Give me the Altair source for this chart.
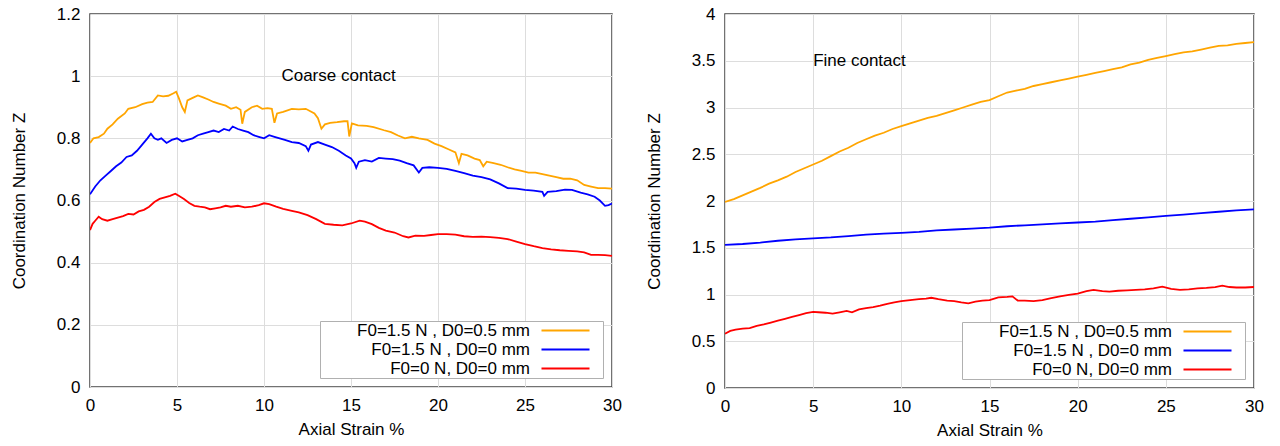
import altair as alt
import pandas as pd

SERIES = ["F0=1.5 N , D0=0.5 mm", "F0=1.5 N , D0=0 mm", "F0=0 N, D0=0 mm"]
COLORS = ["#ffa500", "#0000ff", "#ff0000"]
X_TICKS = [0, 5, 10, 15, 20, 25, 30]
Y_TICKS_COARSE = [0, 0.2, 0.4, 0.6, 0.8, 1.0, 1.2]
Y_TICKS_FINE = [0, 0.5, 1, 1.5, 2, 2.5, 3, 3.5, 4]

# ---- Coarse contact (left panel) ----
coarse_orange_x = [0, 0.2, 0.5, 0.8, 1.0, 1.3, 1.6, 2.0, 2.2, 2.6, 3.0, 3.3, 3.6, 3.9, 4.2, 4.5, 4.8, 4.95,
                   5.1, 5.3, 5.45, 5.6, 5.9, 6.2, 6.5, 6.8, 7.1, 7.4, 7.8, 8.1, 8.4, 8.65, 8.75, 8.9, 9.3,
                   9.6, 9.9, 10.2, 10.45, 10.6, 10.75, 11.1, 11.6, 12.0, 12.4, 12.9, 13.1, 13.3, 13.5, 13.8,
                   14.2, 14.6, 14.8, 14.9, 15.05, 15.4, 15.9, 16.3, 16.9, 17.3, 17.7, 18.1, 18.5, 18.9, 19.4,
                   19.8, 20.2, 20.6, 21.0, 21.2, 21.35, 21.7, 22.1, 22.4, 22.6, 22.8, 23.2, 23.6, 24.0, 24.4,
                   24.8, 25.2, 25.6, 26.0, 26.4, 26.8, 27.2, 27.6, 28.0, 28.4, 28.8, 29.2, 29.6, 30.0]
coarse_orange_y = [0.785, 0.80, 0.804, 0.815, 0.831, 0.845, 0.863, 0.88, 0.895, 0.90, 0.91, 0.915, 0.917, 0.938,
                   0.935, 0.937, 0.945, 0.95, 0.93, 0.90, 0.885, 0.922, 0.93, 0.938, 0.932, 0.925, 0.917, 0.912,
                   0.905, 0.895, 0.90, 0.892, 0.847, 0.885, 0.90, 0.905, 0.895, 0.897, 0.895, 0.85, 0.88, 0.885,
                   0.895, 0.893, 0.895, 0.88, 0.865, 0.831, 0.845, 0.85, 0.852, 0.855, 0.855, 0.806, 0.848,
                   0.842, 0.84, 0.836, 0.826, 0.82, 0.809, 0.80, 0.805, 0.80, 0.795, 0.783, 0.775, 0.765, 0.755,
                   0.72, 0.75, 0.745, 0.735, 0.73, 0.71, 0.725, 0.72, 0.715, 0.707, 0.70, 0.695, 0.69, 0.69,
                   0.685, 0.68, 0.675, 0.67, 0.67, 0.665, 0.65, 0.645, 0.64, 0.64, 0.638]

coarse_blue_x = [0, 0.3, 0.6, 0.9, 1.2, 1.5, 1.8, 2.1, 2.4, 2.7, 3.0, 3.3, 3.5, 3.7, 3.9, 4.1, 4.4, 4.7, 5.0,
                 5.3, 5.6, 5.9, 6.2, 6.5, 6.8, 7.1, 7.4, 7.7, 8.0, 8.2, 8.5, 8.8, 9.1, 9.4, 9.7, 10.0, 10.3,
                 10.6, 10.9, 11.2, 11.6, 12.0, 12.4, 12.55, 12.7, 13.1, 13.5, 13.9, 14.3, 14.7, 15.0, 15.2,
                 15.3, 15.45, 15.8, 16.2, 16.6, 17.0, 17.4, 17.8, 18.2, 18.6, 18.9, 19.1, 19.5, 20.0, 20.5,
                 21.0, 21.5, 22.0, 22.5, 23.0, 23.5, 24.0, 24.5, 25.0, 25.5, 26.0, 26.1, 26.3, 26.8, 27.3,
                 27.7, 28.2, 28.6, 29.0, 29.3, 29.6, 29.8, 30.0]
coarse_blue_y = [0.62, 0.645, 0.665, 0.68, 0.695, 0.71, 0.722, 0.74, 0.745, 0.76, 0.78, 0.80, 0.815, 0.80,
                 0.795, 0.80, 0.785, 0.795, 0.80, 0.79, 0.795, 0.80, 0.81, 0.815, 0.82, 0.825, 0.82, 0.83,
                 0.825, 0.838, 0.83, 0.825, 0.82, 0.81, 0.805, 0.80, 0.81, 0.805, 0.80, 0.795, 0.788, 0.785,
                 0.775, 0.76, 0.78, 0.788, 0.78, 0.772, 0.76, 0.745, 0.735, 0.72, 0.705, 0.725, 0.73, 0.725,
                 0.737, 0.735, 0.733, 0.728, 0.72, 0.713, 0.69, 0.705, 0.707, 0.705, 0.702, 0.695, 0.688,
                 0.68, 0.675, 0.668, 0.655, 0.64, 0.638, 0.634, 0.632, 0.628, 0.615, 0.628, 0.63, 0.635,
                 0.634, 0.625, 0.62, 0.612, 0.60, 0.583, 0.585, 0.59]

coarse_red_x = [0, 0.15, 0.3, 0.5, 0.7, 1.0, 1.3, 1.6, 1.9, 2.2, 2.5, 2.8, 3.1, 3.4, 3.7, 4.0, 4.3, 4.6, 4.9,
                5.1, 5.4, 5.7, 6.0, 6.3, 6.6, 6.9, 7.2, 7.5, 7.8, 8.1, 8.5, 8.9, 9.3, 9.7, 10.0, 10.3, 10.7,
                11.1, 11.6, 12.0, 12.5, 13.0, 13.5, 14.0, 14.5, 15.0, 15.5, 15.8, 16.2, 16.6, 17.0, 17.5,
                18.0, 18.3, 18.7, 19.2, 19.6, 20.0, 20.5, 21.0, 21.5, 22.0, 22.5, 23.0, 23.5, 24.0, 24.5,
                25.0, 25.5, 26.0, 26.5, 27.0, 27.5, 28.0, 28.4, 28.8, 29.2, 29.6, 30.0]
coarse_red_y = [0.505, 0.525, 0.535, 0.548, 0.54, 0.535, 0.54, 0.545, 0.55, 0.557, 0.555, 0.565, 0.57, 0.58,
                0.595, 0.605, 0.61, 0.615, 0.622, 0.615, 0.605, 0.592, 0.583, 0.58, 0.578, 0.572, 0.575,
                0.578, 0.583, 0.58, 0.583, 0.578, 0.58, 0.585, 0.591, 0.588, 0.58, 0.573, 0.567, 0.562, 0.553,
                0.54, 0.525, 0.522, 0.52, 0.526, 0.535, 0.532, 0.524, 0.512, 0.503, 0.497, 0.485, 0.481,
                0.487, 0.486, 0.489, 0.492, 0.492, 0.49, 0.485, 0.483, 0.484, 0.482, 0.48, 0.476, 0.468,
                0.46, 0.453, 0.447, 0.443, 0.44, 0.438, 0.436, 0.433, 0.425, 0.425, 0.424, 0.422]

# ---- Fine contact (right panel) ----
fine_orange_x = [0, 0.5, 1, 1.5, 2, 2.5, 3, 3.5, 4, 4.5, 5, 5.5, 6, 6.5, 7, 7.5, 8, 8.5, 9, 9.5, 10, 10.5,
                 11, 11.5, 12, 12.5, 13, 13.5, 14, 14.5, 15, 15.5, 16, 16.5, 17, 17.5, 18, 18.5, 19, 19.5,
                 20, 20.5, 21, 21.5, 22, 22.5, 23, 23.5, 24, 24.5, 25, 25.5, 26, 26.5, 27, 27.5, 28, 28.5,
                 29, 29.5, 30]
fine_orange_y = [1.99, 2.02, 2.06, 2.10, 2.14, 2.185, 2.22, 2.26, 2.31, 2.35, 2.39, 2.43, 2.48, 2.53, 2.57,
                 2.62, 2.66, 2.70, 2.73, 2.77, 2.80, 2.83, 2.86, 2.89, 2.91, 2.94, 2.97, 3.00, 3.03, 3.06,
                 3.08, 3.12, 3.16, 3.18, 3.20, 3.23, 3.25, 3.27, 3.29, 3.31, 3.33, 3.35, 3.37, 3.39, 3.41,
                 3.43, 3.46, 3.48, 3.51, 3.53, 3.55, 3.57, 3.59, 3.60, 3.62, 3.64, 3.66, 3.665, 3.68, 3.69,
                 3.70]

fine_blue_x = [0, 1, 2, 3, 4, 5, 6, 7, 8, 9, 10, 11, 12, 13, 14, 15, 16, 17, 18, 19, 20, 21, 22, 23, 24,
               25, 26, 27, 28, 29, 30]
fine_blue_y = [1.53, 1.54, 1.555, 1.575, 1.59, 1.60, 1.61, 1.625, 1.64, 1.65, 1.66, 1.67, 1.685, 1.695,
               1.705, 1.715, 1.73, 1.74, 1.75, 1.76, 1.77, 1.78, 1.795, 1.81, 1.825, 1.84, 1.855, 1.87,
               1.885, 1.90, 1.91]

fine_red_x = [0, 0.3, 0.6, 1.0, 1.4, 1.8, 2.2, 2.6, 3.0, 3.4, 3.8, 4.2, 4.6, 5.0, 5.3, 5.7, 6.1, 6.5, 6.9,
              7.2, 7.6, 8.0, 8.4, 8.8, 9.2, 9.6, 10.0, 10.5, 11.0, 11.4, 11.7, 12.1, 12.6, 13.0, 13.4,
              13.8, 14.2, 14.6, 15.0, 15.5, 16.0, 16.3, 16.6, 17.0, 17.5, 18.0, 18.5, 19.0, 19.5, 20.0,
              20.5, 20.9, 21.4, 21.8, 22.3, 22.8, 23.3, 23.8, 24.3, 24.8, 25.3, 25.8, 26.3, 26.8, 27.3,
              27.8, 28.2, 28.6, 29.0, 29.5, 30.0]
fine_red_y = [0.58, 0.61, 0.625, 0.635, 0.64, 0.665, 0.68, 0.70, 0.72, 0.74, 0.76, 0.78, 0.80, 0.815, 0.81,
              0.805, 0.795, 0.81, 0.825, 0.81, 0.84, 0.855, 0.865, 0.88, 0.90, 0.915, 0.93, 0.94, 0.95,
              0.955, 0.965, 0.95, 0.935, 0.93, 0.915, 0.905, 0.925, 0.935, 0.94, 0.97, 0.975, 0.98, 0.935,
              0.935, 0.93, 0.94, 0.96, 0.98, 0.995, 1.01, 1.035, 1.05, 1.035, 1.03, 1.04, 1.045, 1.05,
              1.055, 1.065, 1.085, 1.06, 1.05, 1.055, 1.065, 1.07, 1.08, 1.095, 1.08, 1.075, 1.075, 1.08]

coarse_note = {"strain": [11], "z": [1.0], "label": ["Coarse contact"]}
fine_note = {"strain": [5], "z": [3.5], "label": ["Fine contact"]}

FONT = "Liberation Sans"


def frame(pairs):
    parts = []
    for name, xs, ys in pairs:
        parts.append(pd.DataFrame({"strain": xs, "z": ys, "series": name}))
    return pd.concat(parts, ignore_index=True)


coarse_df = frame([(SERIES[0], coarse_orange_x, coarse_orange_y),
                   (SERIES[1], coarse_blue_x, coarse_blue_y),
                   (SERIES[2], coarse_red_x, coarse_red_y)])
fine_df = frame([(SERIES[0], fine_orange_x, fine_orange_y),
                 (SERIES[1], fine_blue_x, fine_blue_y),
                 (SERIES[2], fine_red_x, fine_red_y)])


def panel(df, note, ymax, yticks, width, height):
    legend = alt.Legend(
        title=None, orient="bottom-right", offset=9,
        symbolType="M-3.43,0H3.43M4.57,0H4.57", symbolSize=196, symbolStrokeWidth=2,
        symbolFillColor="transparent",
        labelAlign="right", labelLimit=400, labelFontSize=17, labelFont=FONT,
        labelColor="black", symbolOffset=236, labelOffset={"expr": "-44"},
        rowPadding=1, padding=1,
        strokeColor="#b0b0b0", fillColor="white",
    )
    x = alt.X("strain:Q", scale=alt.Scale(domain=[0, 30], nice=False, zero=False),
              axis=alt.Axis(values=X_TICKS, title="Axial Strain %"))
    y = alt.Y("z:Q", scale=alt.Scale(domain=[0, ymax], nice=False),
              axis=alt.Axis(values=yticks, format="~g", title="Coordination Number Z"))
    lines = alt.Chart(df).mark_line(strokeWidth=1.8, clip=True).encode(
        x=x, y=y,
        color=alt.Color("series:N", scale=alt.Scale(domain=SERIES, range=COLORS), legend=legend),
    )
    text = alt.Chart(pd.DataFrame(note)).mark_text(
        align="left", baseline="middle", fontSize=17, font=FONT, color="black"
    ).encode(x="strain:Q", y="z:Q", text="label:N")
    return alt.layer(lines, text).properties(width=width, height=height)


left = panel(coarse_df, coarse_note, 1.2, Y_TICKS_COARSE, 522, 373)
right = panel(fine_df, fine_note, 4, Y_TICKS_FINE, 529, 374)

chart = alt.hconcat(left, right, spacing=21).resolve_scale(color="independent").resolve_legend(
    color="independent"
).properties(
    padding={"left": 9, "top": 4, "right": 4, "bottom": 4},
    background="white",
).configure_view(
    stroke="#444444", strokeWidth=1.5
).configure_axis(
    labelFont=FONT, titleFont=FONT, labelFontSize=17, titleFontSize=17,
    titleFontWeight="normal", labelColor="black", titleColor="black",
    ticks=False, domain=False, grid=True, gridColor="#dddddd", gridWidth=1,
    labelPadding=10, labelFlush=False, labelOverlap=False,
).configure_axisY(titlePadding=28).configure_axisX(titlePadding=8)

chart.save("out.html", embed_options={"renderer": "svg", "actions": False})
